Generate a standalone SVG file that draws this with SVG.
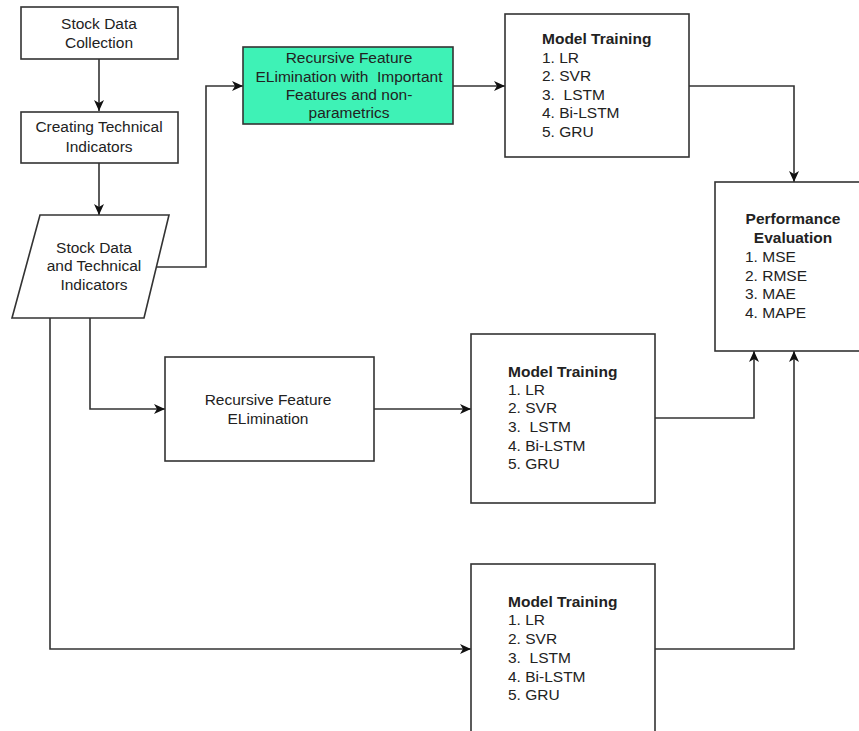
<svg xmlns="http://www.w3.org/2000/svg" width="859" height="731" viewBox="0 0 859 731">
<defs>
<marker id="arr" markerUnits="userSpaceOnUse" markerWidth="12" markerHeight="10" refX="11" refY="5" orient="auto">
<path d="M0,0 L11,5 L0,10 L3,5 Z" fill="#111"/>
</marker>
<style>
.box{fill:#fff;stroke:#333;stroke-width:1.6}
.green{fill:#3ef2b6;stroke:#333;stroke-width:1.6}
.c{fill:none;stroke:#333;stroke-width:1.6;marker-end:url(#arr)}
.l{fill:none;stroke:#444;stroke-width:1.6}
text{font-family:"Liberation Sans",Arial,sans-serif;font-size:15.5px;fill:#222}
.m{text-anchor:middle}
.b{font-weight:bold}
</style>
</defs>
<rect width="859" height="731" fill="#fff"/>
<g id="connectors">
<path class="c" d="M99,59 L99,111"/>
<path class="c" d="M99,163 L99,215"/>
<path class="c" d="M157,267 L206,267 L206,86 L243,86"/>
<path class="c" d="M453,86 L505,86"/>
<path class="c" d="M689,86 L794,86 L794,182"/>
<path class="c" d="M90,318 L90,409 L165,409"/>
<path class="c" d="M374,409 L471,409"/>
<path class="c" d="M655,418 L754,418 L754,351"/>
<path class="c" d="M50,318 L50,649 L471,649"/>
<path class="c" d="M655,649 L794,649 L794,351"/>
</g>
<g id="n-collection">
<rect class="box" x="21" y="7" width="157" height="52"/>
<text class="m" x="99" y="29">Stock Data</text>
<text class="m" x="99" y="48">Collection</text>
</g>
<g id="n-indicators">
<rect class="box" x="21" y="112" width="157" height="51"/>
<text class="m" x="99" y="132">Creating Technical</text>
<text class="m" x="99" y="152">Indicators</text>
</g>
<g id="n-data">
<polygon class="box" points="40,215 169,215 144,318 12,318"/>
<text class="m" x="94" y="253">Stock Data</text>
<text class="m" x="94" y="271">and Technical</text>
<text class="m" x="94" y="290">Indicators</text>
</g>
<g id="n-rfe-imp">
<rect class="green" x="243" y="47" width="210" height="77"/>
<text class="m" x="349" y="63">Recursive Feature</text>
<text class="m" x="349" y="82" xml:space="preserve">ELimination with  Important</text>
<text class="m" x="349" y="100">Features and non-</text>
<text class="m" x="349" y="118">parametrics</text>
</g>
<g id="n-mt1">
<rect class="box" x="505" y="14" width="184" height="143"/>
<text class="b" x="542" y="44">Model Training</text>
<text x="542" y="63">1. LR</text>
<text x="542" y="81">2. SVR</text>
<text x="542" y="100" xml:space="preserve">3.  LSTM</text>
<text x="542" y="118">4. Bi-LSTM</text>
<text x="542" y="137">5. GRU</text>
</g>
<g id="n-perf">
<rect class="box" x="715" y="182" width="160" height="169"/>
<text class="m b" x="793" y="224">Performance</text>
<text class="m b" x="793" y="243">Evaluation</text>
<text x="745" y="262">1. MSE</text>
<text x="745" y="281">2. RMSE</text>
<text x="745" y="299">3. MAE</text>
<text x="745" y="318">4. MAPE</text>
</g>
<g id="n-rfe">
<rect class="box" x="165" y="357" width="209" height="104"/>
<text class="m" x="268" y="405">Recursive Feature</text>
<text class="m" x="268" y="424">ELimination</text>
</g>
<g id="n-mt2">
<rect class="box" x="471" y="334" width="184" height="169"/>
<text class="b" x="508" y="377">Model Training</text>
<text x="508" y="395">1. LR</text>
<text x="508" y="413">2. SVR</text>
<text x="508" y="432" xml:space="preserve">3.  LSTM</text>
<text x="508" y="451">4. Bi-LSTM</text>
<text x="508" y="469">5. GRU</text>
</g>
<g id="n-mt3">
<rect class="box" x="471" y="564" width="184" height="180"/>
<text class="b" x="508" y="607">Model Training</text>
<text x="508" y="625">1. LR</text>
<text x="508" y="644">2. SVR</text>
<text x="508" y="663" xml:space="preserve">3.  LSTM</text>
<text x="508" y="682">4. Bi-LSTM</text>
<text x="508" y="700">5. GRU</text>
</g>
</svg>
